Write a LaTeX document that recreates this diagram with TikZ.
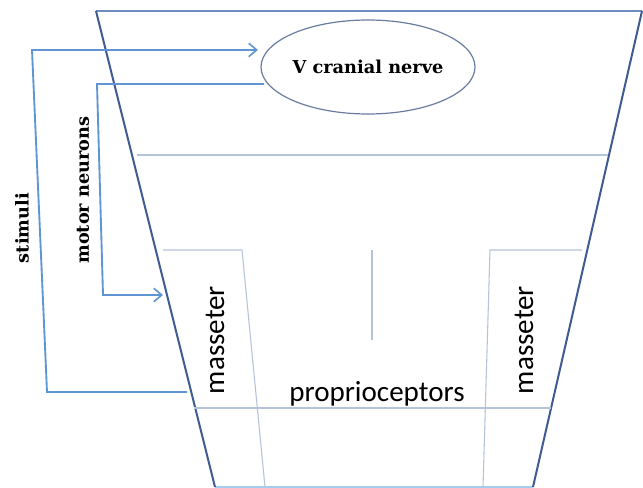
\documentclass[tikz,border=0pt]{standalone}
\usepackage{fontspec}
\setmainfont{DejaVu Serif}
\newfontfamily\carl{Carlito}
\usetikzlibrary{shapes.geometric,arrows.meta}
\definecolor{edgeblue}{RGB}{62,92,145}
\definecolor{topblue}{RGB}{110,140,190}
\definecolor{connblue}{RGB}{95,150,210}
\definecolor{thinline}{RGB}{180,195,218}
\definecolor{bottomblue}{RGB}{165,205,238}
\definecolor{ellgray}{RGB}{105,125,160}
\begin{document}
\begin{tikzpicture}[x=0.75pt,y=-0.75pt,
  edge/.style={draw=edgeblue,line width=1.5pt},
  thin/.style={draw=thinline,line width=0.8pt},
  conn/.style={draw=connblue,line width=1.4pt},
  arr/.style={conn,-{Straight Barb[length=6pt,width=10pt,line width=1.2pt]}},
  serifbold/.style={font=\fontsize{13.3pt}{15pt}\selectfont\bfseries},
  sanslbl/.style={font=\carl\fontsize{21.8pt}{24pt}\selectfont}]
\useasboundingbox (0,0) rectangle (643,488);
\fill[white] (0,0) rectangle (643,488);
% trapezoid
\coordinate (tl) at (96,11);
\coordinate (tr) at (642,11);
\coordinate (bl) at (215,487);
\coordinate (br) at (533,487);
\draw[draw=topblue,line width=1.3pt] (tl) -- (tr);
\draw[draw=bottomblue,line width=1.2pt] (bl) -- (br);
\draw[edge] (tl) -- (bl);
\draw[edge] (tr) -- (br);
% inner thin lines
\coordinate (h1a) at (137,155);
\coordinate (h1b) at (608,155);
\draw[thin] (h1a) -- (h1b);
\coordinate (lm1) at (163,250);
\coordinate (lm2) at (242,250);
\coordinate (lm3) at (265,487);
\draw[thin] (lm1) -- (lm2) -- (lm3);
\coordinate (rm1) at (582,250);
\coordinate (rm2) at (490,250);
\coordinate (rm3) at (483,487);
\draw[thin] (rm1) -- (rm2) -- (rm3);
\coordinate (c1) at (372,250);
\coordinate (c2) at (372,340);
\draw[thin] (c1) -- (c2);
\coordinate (p1) at (194,408);
\coordinate (p2) at (551,408);
\draw[thin] (p1) -- (p2);
% ellipse
\node[ellipse,draw=ellgray,line width=0.9pt,minimum width=160.5pt,minimum height=70.5pt,inner sep=0pt,serifbold] (vcn) at (368,67) {V cranial nerve};
% stimuli connector
\coordinate (s0) at (187,392);
\coordinate (s1) at (47,392);
\coordinate (s2) at (32,50);
\coordinate (s3) at (258,50);
\draw[arr] (s0) -- (s1) -- (s2) -- (s3);
% motor neurons connector
\coordinate (m0) at (264,84);
\coordinate (m1) at (97,84);
\coordinate (m2) at (103,295);
\coordinate (m3) at (163,295);
\draw[arr] (m0) -- (m1) -- (m2) -- (m3);
% labels
\node[serifbold,rotate=90] (stim) at (22,228) {stimuli};
\node[serifbold,rotate=90] (motor) at (83,190) {motor neurons};
\node[sanslbl,rotate=90] (mas1) at (215,340) {masseter};
\node[sanslbl,rotate=90] (mas2) at (524,340) {masseter};
\node[sanslbl,anchor=base] (prop) at (377,402) {proprioceptors};
\end{tikzpicture}
\end{document}
